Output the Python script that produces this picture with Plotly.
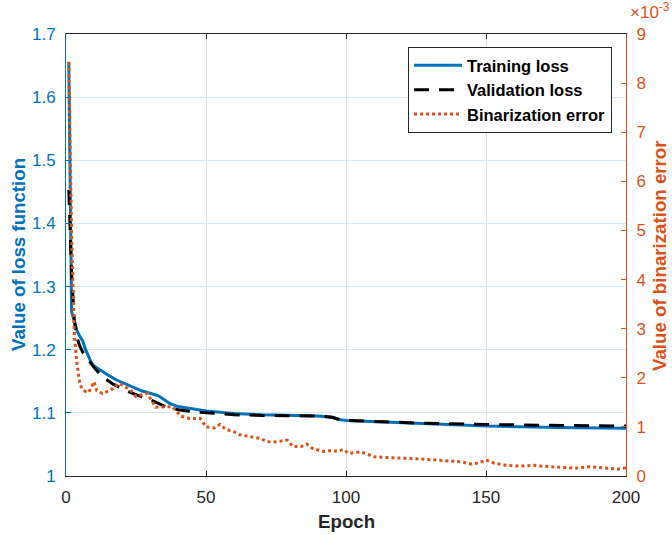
import plotly.graph_objects as go

# ---- data ----
train_epochs = [1, 2, 3, 4, 5, 6, 7, 8, 9, 10, 12, 15, 18, 21, 24, 27, 30, 32, 33, 35, 37, 40,
                45, 50, 55, 60, 70, 80, 90, 95, 98, 100, 110, 125, 150, 175, 200]
train_loss = [1.656, 1.26, 1.245, 1.229, 1.221, 1.2135, 1.200, 1.190, 1.180, 1.174, 1.168, 1.160,
              1.152, 1.146, 1.140, 1.135, 1.131, 1.128, 1.127, 1.121, 1.115, 1.110, 1.106, 1.103,
              1.101, 1.099, 1.097, 1.096, 1.095, 1.093, 1.089, 1.088, 1.086, 1.083, 1.079, 1.077, 1.0755]

val_epochs = [1, 2, 3, 4, 5, 6, 7, 8, 10, 13, 17, 22, 27, 31, 35, 40, 45, 50, 60, 70, 80, 90,
              95, 98, 100, 110, 125, 150, 175, 200]
val_loss = [1.453, 1.32, 1.245, 1.218, 1.205, 1.196, 1.190, 1.184, 1.172, 1.157, 1.145, 1.134,
            1.126, 1.119, 1.111, 1.105, 1.102, 1.100, 1.097, 1.096, 1.096, 1.095, 1.093, 1.089,
            1.088, 1.086, 1.084, 1.0815, 1.080, 1.079]

bin_epochs = [1, 2, 3, 4, 5, 6, 7, 8, 9, 10, 11, 13, 16, 19, 23, 25, 29, 32, 35, 38, 41, 44, 48,
              50, 53, 55, 57, 60, 62, 66, 69, 72, 74, 79, 81, 84, 86, 88, 92, 95, 97, 99, 101,
              105, 107, 110, 115, 119, 125, 131, 137, 141, 145, 148, 150, 153, 157, 162, 167,
              170, 176, 182, 187, 193, 197, 200]
# binarization error, in units of 1e-3
bin_error_e3 = [8.43, 4.9, 2.85, 2.25, 1.86, 1.76, 1.72, 1.70, 1.80, 1.92, 1.74, 1.68, 1.75, 1.89,
                1.75, 1.62, 1.68, 1.40, 1.41, 1.41, 1.22, 1.17, 1.17, 1.00, 0.98, 1.05, 0.95, 0.90,
                0.84, 0.80, 0.77, 0.70, 0.69, 0.73, 0.60, 0.60, 0.65, 0.56, 0.50, 0.52, 0.50, 0.54,
                0.46, 0.49, 0.46, 0.39, 0.38, 0.36, 0.35, 0.33, 0.30, 0.29, 0.24, 0.28, 0.33, 0.26,
                0.22, 0.20, 0.22, 0.20, 0.18, 0.16, 0.19, 0.16, 0.14, 0.17]

x_ticks = [0, 50, 100, 150, 200]
y_ticks = [1.0, 1.1, 1.2, 1.3, 1.4, 1.5, 1.6, 1.7]
y_ticklabels = ["1", "1.1", "1.2", "1.3", "1.4", "1.5", "1.6", "1.7"]
y2_ticks = [0, 1, 2, 3, 4, 5, 6, 7, 8, 9]

BLUE = "#0072BD"
ORANGE = "#D95319"
DARK = "#262626"
FONT = "Liberation Sans, Arial, Helvetica, sans-serif"

fig = go.Figure()
fig.add_trace(go.Scatter(x=train_epochs, y=train_loss, mode="lines", name="Training loss",
                         line=dict(color=BLUE, width=3)))
fig.add_trace(go.Scatter(x=val_epochs, y=val_loss, mode="lines", name="Validation loss",
                         line=dict(color="black", width=3, dash="15px,10px")))
fig.add_trace(go.Scatter(x=bin_epochs, y=bin_error_e3, mode="lines", name="Binarization error",
                         yaxis="y2", line=dict(color=ORANGE, width=3, dash="dot")))

fig.update_layout(
    width=672, height=535,
    margin=dict(l=66, r=46, t=34, b=59),
    paper_bgcolor="white", plot_bgcolor="white",
    font=dict(family=FONT, size=17, color=DARK),
    showlegend=True,
    legend=dict(x=0.975, y=0.9706, xanchor="right", yanchor="top",
                bgcolor="white", bordercolor=DARK, borderwidth=1,
                font=dict(family=FONT, size=16.5, color="black", weight="bold"),
                tracegroupgap=0, itemwidth=48),
    xaxis=dict(range=[0, 200], tickvals=x_ticks, ticks="inside", ticklen=5,
               tickcolor=DARK, showline=True, linecolor=DARK, linewidth=1, mirror="ticks",
               showgrid=True, gridcolor="#dfdfdf", gridwidth=1, zeroline=False,
               tickfont=dict(size=17, color=DARK), ticklabelstandoff=6),
    yaxis=dict(range=[1.0, 1.7], tickvals=y_ticks, ticktext=y_ticklabels, ticks="inside",
               ticklen=5, tickcolor=BLUE, showline=True, linecolor=BLUE, linewidth=1,
               showgrid=True, gridcolor="#d9e8f5", gridwidth=1, zeroline=False,
               tickfont=dict(size=17, color=BLUE), ticklabelstandoff=6),
    yaxis2=dict(range=[0, 9], tickvals=y2_ticks, overlaying="y", side="right",
                ticks="inside", ticklen=5, tickcolor=ORANGE, showline=True,
                linecolor=ORANGE, linewidth=1, showgrid=False, zeroline=False,
                tickfont=dict(size=17, color=ORANGE), ticklabelstandoff=6),
    annotations=[
        dict(text="Epoch", xref="paper", yref="paper", x=0.5, y=-0.102,
             xanchor="center", yanchor="middle", showarrow=False,
             font=dict(family=FONT, size=18.7, color=DARK, weight="bold")),
        dict(text="Value of loss function", xref="paper", yref="paper", x=-0.0857, y=0.5,
             xanchor="center", yanchor="middle", textangle=-90, showarrow=False,
             font=dict(family=FONT, size=18.7, color=BLUE, weight="bold")),
        dict(text="Value of binarization error", xref="paper", yref="paper", x=1.0589, y=0.5,
             xanchor="center", yanchor="middle", textangle=-90, showarrow=False,
             font=dict(family=FONT, size=18.7, color=ORANGE, weight="bold")),
        dict(text="×10<sup>-3</sup>", xref="paper", yref="paper", x=1.0036, y=1.022,
             xanchor="left", yanchor="bottom", showarrow=False,
             font=dict(family=FONT, size=17, color=ORANGE)),
    ],
)

fig.write_html("out.html")
